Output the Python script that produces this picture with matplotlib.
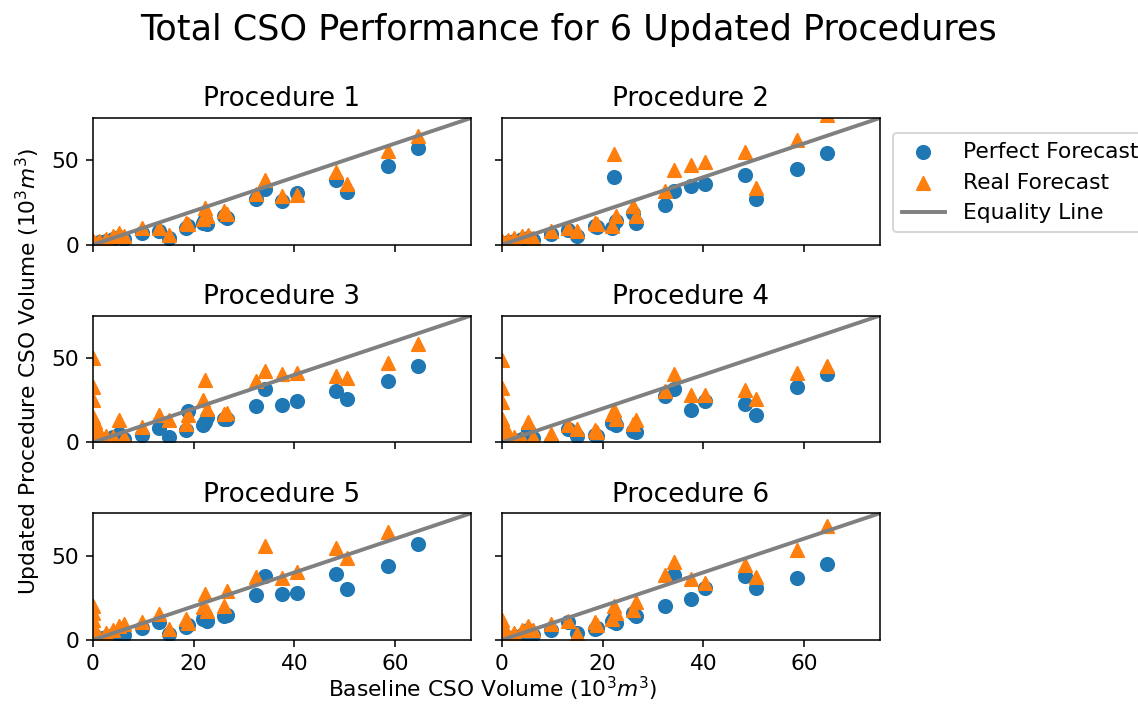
import matplotlib

matplotlib.use("Agg")
import matplotlib.pyplot as plt

# Baseline CSO volume per event (10^3 m^3), shared by all procedures
baseline = [0, 0, 0, 0, 0, 0.4, 1.2, 2.5, 4.0, 5.2, 6.2,
            9.7, 13.2, 15.0, 18.4, 18.9, 21.8, 22.3, 22.6, 26.1, 26.6,
            32.4, 34.2, 37.6, 40.4, 48.2, 50.4, 58.6, 64.6]

# Updated procedure volumes: perfect forecast / real forecast
perfect_1 = [0, 0, 0, 0, 0, 0.4, 1.5, 2.5, 3.5, 4.8, 3.5,
             7, 8, 4, 10, 11, 13, 15, 12, 17, 16,
             27, 33, 26, 30.7, 38.5, 31.5, 46.6, 57.2]
real_1 = [0.5, 1.0, 1.5, 0.8, 2.0, 1.0, 2.5, 3.5, 5, 7, 5,
          10, 10, 6, 13, 12, 15, 22, 17, 20, 18,
          30, 38.5, 29, 29.5, 43, 36, 55.6, 64.3]

perfect_2 = [0, 0, 0, 0, 0, 0.5, 1.5, 2.5, 3.5, 4, 3,
             6.6, 9, 5.4, 11, 10.5, 10, 40.2, 14, 18.7, 13,
             23.5, 32, 35, 36, 41, 27, 44.6, 54.2]
real_2 = [1, 2, 1, 0.5, 1.5, 1, 3, 4, 5, 5.5, 4,
          8, 10, 8, 13, 12, 11, 54, 17, 23, 17,
          32, 44, 47, 49, 55, 33.7, 62, 77]

perfect_3 = [0, 0, 0, 0, 0, 0.3, 1, 2, 3, 5, 2,
             4.2, 8.4, 3.2, 7.2, 18.6, 10.2, 12, 15.2, 14, 13.6,
             21.8, 31.8, 22.2, 24.2, 30.6, 25.6, 36.6, 45.2]
real_3 = [50, 33, 25, 15, 8, 12, 6, 4, 3, 13.2, 3,
          9.2, 16, 13, 11, 16.2, 25.2, 37.2, 20, 17, 17.2,
          36.2, 42.2, 40.2, 41.2, 39.2, 38.2, 47.2, 58.2]

perfect_4 = [0, 0, 0, 0, 0, 0.3, 1, 1.5, 2, 7.2, 2.4,
             0.5, 8.2, 3.6, 4.2, 3.5, 11.2, 12.5, 10, 6.5, 6.2,
             27.6, 31.6, 19.2, 24.2, 22.6, 16.2, 32.8, 40.2]
real_4 = [49, 32, 24, 14, 7, 10, 5, 3, 2, 12.2, 3,
          4.8, 10.2, 8.2, 7.2, 6, 17, 19.2, 14, 11, 13.2,
          30.2, 40.2, 28.2, 28.2, 31.2, 25.6, 41.2, 45.2]

perfect_5 = [0, 0, 0, 0, 0, 0.3, 1, 2, 3, 4, 3,
             6.8, 10.4, 3.4, 7.4, 9, 12.4, 15, 11, 14, 14.8,
             26.4, 37.8, 27.4, 28, 39, 30.4, 43.7, 56.7]
real_5 = [20, 16, 12, 8, 4, 3, 2, 4, 6, 8, 9.4,
          10.4, 15.4, 6.4, 12.4, 10, 19.4, 27.4, 17, 20.4, 28.8,
          37.4, 55.4, 36.4, 40.4, 54.4, 48.4, 64.2, 85]

perfect_6 = [0, 0, 0, 0, 0, 0.3, 1, 2, 3, 6, 3,
             6, 10.4, 4.4, 6.4, 7, 11.4, 13, 10, 16, 14.4,
             19.9, 38.3, 24.4, 30.7, 37.9, 30.7, 36.7, 44.9]
real_6 = [12, 9, 6, 4, 2, 2, 3, 4, 6, 8, 6,
          9.4, 11.4, 3.4, 10.4, 9, 12.4, 20.4, 16, 18, 22.3,
          38.3, 46.3, 36, 34, 44.3, 37.3, 53.3, 67.2]

procedures = ["Procedure 1", "Procedure 2", "Procedure 3",
              "Procedure 4", "Procedure 5", "Procedure 6"]
perfect = [perfect_1, perfect_2, perfect_3, perfect_4, perfect_5, perfect_6]
real = [real_1, real_2, real_3, real_4, real_5, real_6]

plt.rcParams["font.size"] = 11.2

fig, axes = plt.subplots(3, 2, sharex=True, sharey=True,
                         figsize=(1138 / 140, 707 / 140))
fig.subplots_adjust(left=0.0817, right=0.773, top=0.833, bottom=0.0948,
                    wspace=0.082, hspace=0.56)

for ax, name, pf, rf in zip(axes.flat, procedures, perfect, real):
    ax.scatter(baseline, pf, s=46, color="C0", marker="o",
               label="Perfect Forecast")
    ax.scatter(baseline, rf, s=46, color="C1", marker="^",
               label="Real Forecast")
    ax.plot([0, 75], [0, 75], color="gray", linewidth=2, label="Equality Line")
    ax.set_title(name, fontsize=13.5)
    ax.set_xlim(0, 75)
    ax.set_ylim(0, 75)
    ax.set_xticks([0, 20, 40, 60])
    ax.set_yticks([0, 50])

handles, labels = axes[0, 0].get_legend_handles_labels()
fig.legend(handles, labels, loc="upper left", borderaxespad=0,
           bbox_to_anchor=(893 / 1138, 1 - 133 / 707))

fig.suptitle("Total CSO Performance for 6 Updated Procedures",
             fontsize=18, y=0.958, va="center")
fig.text(0.433, 0.006, "Baseline CSO Volume (10$^3m^3$)",
         ha="center", va="bottom")
fig.text(0.012, 0.474, "Updated Procedure CSO Volume (10$^3m^3$)",
         va="center", rotation=90)

fig.savefig("out.png", dpi=140)
